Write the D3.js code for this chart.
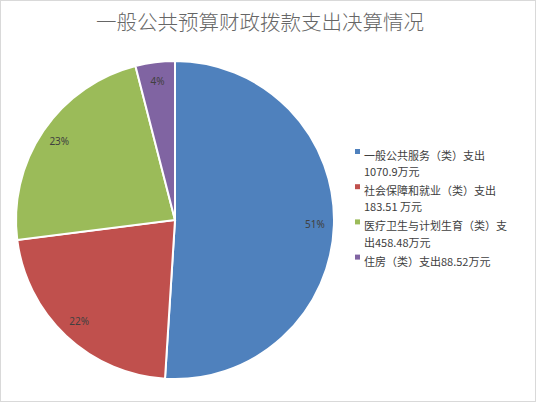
<!DOCTYPE html>
<html><head><meta charset="utf-8">
<script src="https://cdn.jsdelivr.net/npm/d3@7"></script>
<style>body{margin:0;background:#fff;}svg{display:block;}</style>
</head><body>
<svg id="c" width="536" height="402"></svg>
<script>
const title = "一般公共预算财政拨款支出决算情况";
const categories = ["一般公共服务（类）支出", "社会保障和就业（类）支出", "医疗卫生与计划生育（类）支出", "住房（类）支出"];
const legendLines = [
  ["一般公共服务（类）支出", "1070.9万元"],
  ["社会保障和就业（类）支出", "183.51 万元"],
  ["医疗卫生与计划生育（类）支", "出458.48万元"],
  ["住房（类）支出88.52万元"]
];
const shares = [51, 22, 23, 4];
const percentLabels = ["51%", "22%", "23%", "4%"];
const colors = ["#4f81bd", "#c0504d", "#9bbb59", "#8064a2"];

const svg = d3.select("#c");
svg.append("rect").attr("x",0.5).attr("y",0.5).attr("width",535).attr("height",401)
  .attr("fill","#fff").attr("stroke","#d9d9d9");
svg.append("text").attr("x",260).attr("y",30).attr("text-anchor","middle")
  .attr("font-family","'Noto Sans CJK SC', sans-serif").attr("font-size",20.5)
  .attr("font-weight",300)
  .attr("fill","#666666").text(title);

const cx = 175, cy = 220, r = 159;
const pie = d3.pie().sort(null).value(d => d);
const arcs = pie(shares);
const arc = d3.arc().innerRadius(0).outerRadius(r);
const labelArc = d3.arc().innerRadius(r*0.88).outerRadius(r*0.88);
const g = svg.append("g").attr("transform",`translate(${cx},${cy})`);
g.selectAll("path").data(arcs).enter().append("path")
  .attr("d", arc).attr("fill",(d,i)=>colors[i]).attr("stroke","#fff").attr("stroke-width",2);
g.selectAll("text").data(arcs).enter().append("text")
  .attr("transform", d => `translate(${labelArc.centroid(d)})`)
  .attr("text-anchor","middle").attr("dy","0.35em")
  .attr("font-family","'Noto Sans', sans-serif").attr("font-size",10)
  .attr("fill","#404040").text((d,i)=>percentLabels[i]);

const leg = svg.append("g");
let y = 156;
const lh = 16.2;
legendLines.forEach((lines, i) => {
  leg.append("rect").attr("x",355).attr("y",y-7).attr("width",5).attr("height",5).attr("fill",colors[i]);
  const t = leg.append("text").attr("x",364).attr("y",y+4)
    .attr("font-family","'Noto Sans CJK SC', sans-serif").attr("font-size",11)
    .attr("fill","#404040");
  lines.forEach((s, j) => {
    t.append("tspan").attr("x",364).attr("dy", j===0 ? 0 : lh).text(s);
  });
  y += (lines.length-1)*lh + 19;
});
</script>
</body></html>
